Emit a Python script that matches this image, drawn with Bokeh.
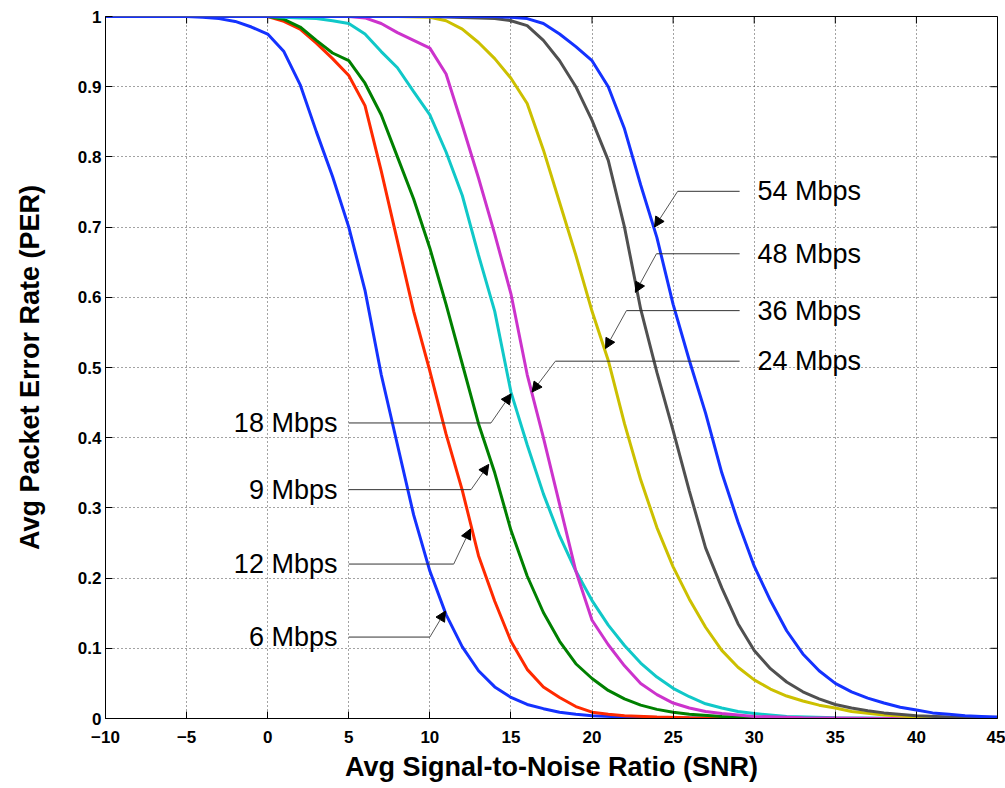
from bokeh.plotting import figure
from bokeh.models import (Range1d, FixedTicker, Arrow, NormalHead, Label)
from bokeh.embed import file_html
from bokeh.resources import INLINE

# ---------------- data ----------------
snr_6 = [-10, -5, -4, -3, -2, -1, 0, 1, 2, 3, 4, 5, 6, 7, 8, 9, 10, 11, 12, 13, 14, 15, 16, 17, 18, 19, 20, 22, 25, 30, 35, 45]
per_6 = [1, 1, 0.999, 0.997, 0.993, 0.985, 0.975, 0.95, 0.903, 0.836, 0.772, 0.70, 0.61, 0.49, 0.39, 0.29, 0.21, 0.148, 0.102, 0.068, 0.045, 0.03, 0.02, 0.014, 0.009, 0.006, 0.004, 0.002, 0.001, 0.0005, 0, 0]

snr_9 = [-10, 0, 1, 2, 3, 4, 5, 6, 7, 8, 9, 10, 11, 12, 13, 14, 15, 16, 17, 18, 19, 20, 21, 22, 23, 24, 25, 26, 28, 30, 35, 45]
per_9 = [1, 1, 0.996, 0.985, 0.966, 0.948, 0.937, 0.905, 0.86, 0.80, 0.74, 0.67, 0.59, 0.505, 0.42, 0.35, 0.268, 0.203, 0.151, 0.11, 0.078, 0.057, 0.04, 0.028, 0.019, 0.013, 0.009, 0.006, 0.003, 0.001, 0, 0]

snr_12 = [-10, 0, 1, 2, 3, 4, 5, 6, 7, 8, 9, 10, 11, 12, 13, 14, 15, 16, 17, 18, 19, 20, 21, 22, 24, 26, 30, 45]
per_12 = [1, 1, 0.993, 0.982, 0.962, 0.94, 0.916, 0.873, 0.78, 0.68, 0.58, 0.495, 0.405, 0.325, 0.232, 0.167, 0.11, 0.07, 0.045, 0.03, 0.017, 0.009, 0.006, 0.004, 0.002, 0.001, 0, 0]

snr_18 = [-10, 0, 2, 3, 4, 5, 6, 7, 8, 9, 10, 11, 12, 13, 14, 15, 16, 17, 18, 19, 20, 21, 22, 23, 24, 25, 26, 27, 28, 29, 30, 32, 35, 40, 45]
per_18 = [1, 1, 0.998, 0.997, 0.994, 0.99, 0.975, 0.95, 0.927, 0.893, 0.86, 0.807, 0.745, 0.66, 0.58, 0.465, 0.39, 0.32, 0.26, 0.21, 0.168, 0.133, 0.104, 0.079, 0.059, 0.043, 0.031, 0.021, 0.015, 0.01, 0.007, 0.003, 0.001, 0, 0]

snr_24 = [-10, 0, 5, 6, 7, 8, 9, 10, 11, 12, 13, 14, 15, 16, 17, 18, 19, 20, 21, 22, 23, 24, 25, 26, 27, 28, 30, 33, 38, 45]
per_24 = [1, 1, 1, 0.998, 0.99, 0.977, 0.966, 0.955, 0.918, 0.845, 0.77, 0.69, 0.605, 0.49, 0.40, 0.305, 0.21, 0.14, 0.105, 0.075, 0.05, 0.034, 0.022, 0.015, 0.01, 0.007, 0.003, 0.001, 0, 0]

snr_36 = [-10, 0, 8, 10, 11, 12, 13, 14, 15, 16, 17, 18, 19, 20, 21, 22, 23, 24, 25, 26, 27, 28, 29, 30, 31, 32, 33, 34, 35, 36, 38, 40, 43, 45]
per_36 = [1, 1, 1, 0.999, 0.994, 0.982, 0.963, 0.94, 0.912, 0.876, 0.81, 0.735, 0.66, 0.58, 0.51, 0.42, 0.34, 0.272, 0.216, 0.17, 0.13, 0.097, 0.073, 0.055, 0.042, 0.032, 0.025, 0.019, 0.015, 0.01, 0.005, 0.002, 0.001, 0]

snr_48 = [-10, 0, 10, 13, 14, 15, 16, 17, 18, 19, 20, 21, 22, 23, 24, 25, 26, 27, 28, 29, 30, 31, 32, 33, 34, 35, 36, 37, 38, 40, 42, 45]
per_48 = [1, 1, 1, 0.998, 0.997, 0.994, 0.987, 0.966, 0.937, 0.90, 0.852, 0.795, 0.70, 0.583, 0.493, 0.41, 0.324, 0.243, 0.186, 0.135, 0.097, 0.071, 0.052, 0.038, 0.028, 0.02, 0.015, 0.011, 0.008, 0.004, 0.002, 0.001]

snr_54 = [-10, 0, 14, 15, 16, 17, 18, 19, 20, 21, 22, 23, 24, 25, 26, 27, 28, 29, 30, 31, 32, 33, 34, 35, 36, 37, 38, 39, 40, 41, 42, 43, 44, 45]
per_54 = [1, 1, 1, 0.999, 0.997, 0.99, 0.975, 0.957, 0.937, 0.90, 0.84, 0.76, 0.685, 0.59, 0.51, 0.435, 0.35, 0.28, 0.217, 0.168, 0.125, 0.092, 0.068, 0.05, 0.038, 0.029, 0.022, 0.016, 0.012, 0.008, 0.006, 0.004, 0.003, 0.002]

x_ticks = [-10, -5, 0, 5, 10, 15, 20, 25, 30, 35, 40, 45]
x_tick_labels = ["\u221210", "\u22125", "0", "5", "10", "15", "20", "25", "30", "35", "40", "45"]
y_ticks = [0, 0.1, 0.2, 0.3, 0.4, 0.5, 0.6, 0.7, 0.8, 0.9, 1]
y_tick_labels = ["0", "0.1", "0.2", "0.3", "0.4", "0.5", "0.6", "0.7", "0.8", "0.9", "1"]

left_labels = ["18 Mbps", "9 Mbps", "12 Mbps", "6 Mbps"]
left_line_y = [0.421, 0.326, 0.22, 0.116]
left_corner_x = [13.77, 12.54, 11.47, 10.0]
left_tip_x = [15.01, 13.63, 12.5, 10.96]
left_tip_y = [0.4625, 0.362, 0.27, 0.153]

right_labels = ["54 Mbps", "48 Mbps", "36 Mbps", "24 Mbps"]
right_line_y = [0.751, 0.662, 0.581, 0.509]
right_corner_x = [25.28, 23.97, 22.12, 17.74]
right_tip_x = [23.85, 22.67, 20.83, 16.3]
right_tip_y = [0.70, 0.607, 0.527, 0.465]

x_label = "Avg Signal-to-Noise Ratio (SNR)"
y_label = "Avg Packet Error Rate (PER)"

# ---------------- figure ----------------
FONT = "Liberation Sans"
X0, X1 = -10, 45
Y0, Y1 = 0, 1
FRAME_W, FRAME_H = 892, 702
TICK_PX = 7

p = figure(width=1005, height=788, output_backend="svg", toolbar_location=None,
           x_range=Range1d(X0, X1), y_range=Range1d(Y0, Y1),
           min_border_left=105, min_border_right=8, min_border_top=16, min_border_bottom=70)
p.background_fill_color = "white"
p.border_fill_color = "white"
p.outline_line_color = "black"
p.outline_line_width = 1

p.xaxis.ticker = FixedTicker(ticks=x_ticks)
p.yaxis.ticker = FixedTicker(ticks=y_ticks)
p.xaxis.major_label_overrides = dict(zip(x_ticks, x_tick_labels))
p.yaxis.major_label_overrides = dict(zip(y_ticks, y_tick_labels))

for ax in (p.xaxis, p.yaxis):
    ax.major_tick_in = TICK_PX
    ax.major_tick_out = 0
    ax.minor_tick_line_color = None
    ax.axis_line_color = "black"
    ax.major_tick_line_color = "black"
    ax.major_label_text_font = FONT
    ax.major_label_text_font_size = "17px"
    ax.major_label_text_font_style = "bold"
    ax.major_label_text_color = "black"
    ax.axis_label_text_font = FONT
    ax.axis_label_text_font_size = "27px"
    ax.axis_label_text_font_style = "bold"
    ax.axis_label_text_color = "black"
p.xaxis.major_label_standoff = 12
p.yaxis.major_label_standoff = 4
p.xaxis.axis_label = x_label
p.yaxis.axis_label = y_label
p.xaxis.axis_label_standoff = 6
p.yaxis.axis_label_standoff = 30

# inward ticks on the top and right edges of the box
dy = (Y1 - Y0) * TICK_PX / FRAME_H
dx = (X1 - X0) * TICK_PX / FRAME_W
p.segment(x0=x_ticks, y0=[Y1] * len(x_ticks), x1=x_ticks, y1=[Y1 - dy] * len(x_ticks),
          line_color="black", line_width=1)
p.segment(x0=[X1] * len(y_ticks), y0=y_ticks, x1=[X1 - dx] * len(y_ticks), y1=y_ticks,
          line_color="black", line_width=1)

p.grid.grid_line_color = "#333333"
p.grid.grid_line_dash = "1 3"
p.grid.grid_line_width = 1
p.grid.grid_line_alpha = 0.9

series = [
    (snr_6, per_6, "#1432ff"),
    (snr_12, per_12, "#ff2a00"),
    (snr_9, per_9, "#008000"),
    (snr_18, per_18, "#10c8c8"),
    (snr_24, per_24, "#cc33cc"),
    (snr_36, per_36, "#ccc000"),
    (snr_48, per_48, "#505050"),
    (snr_54, per_54, "#1432ff"),
]
for xs, ys, c in series:
    p.line(xs, ys, line_color=c, line_width=3)

LEFT_START_X = 5.0
LEFT_TEXT_X = 4.3
RIGHT_START_X = 29.1
RIGHT_TEXT_X = 30.2

def add_annot(lbl, ly, start_x, corner_x, tx, ty, text_x, align):
    p.segment(x0=[start_x], y0=[ly], x1=[corner_x], y1=[ly], line_color="#333333", line_width=1)
    p.add_layout(Arrow(x_start=corner_x, y_start=ly, x_end=tx, y_end=ty,
                       line_color="#555555", line_width=1,
                       end=NormalHead(size=10, fill_color="black", line_color="black", line_width=1)))
    p.add_layout(Label(x=text_x, y=ly, text=lbl, text_align=align, text_baseline="middle",
                       text_font=FONT, text_font_size="27px", text_color="black"))

for i in range(len(left_labels)):
    add_annot(left_labels[i], left_line_y[i], LEFT_START_X, left_corner_x[i],
              left_tip_x[i], left_tip_y[i], LEFT_TEXT_X, "right")
for i in range(len(right_labels)):
    add_annot(right_labels[i], right_line_y[i], RIGHT_START_X, right_corner_x[i],
              right_tip_x[i], right_tip_y[i], RIGHT_TEXT_X, "left")

open("out.html", "w").write(file_html(p, INLINE))
